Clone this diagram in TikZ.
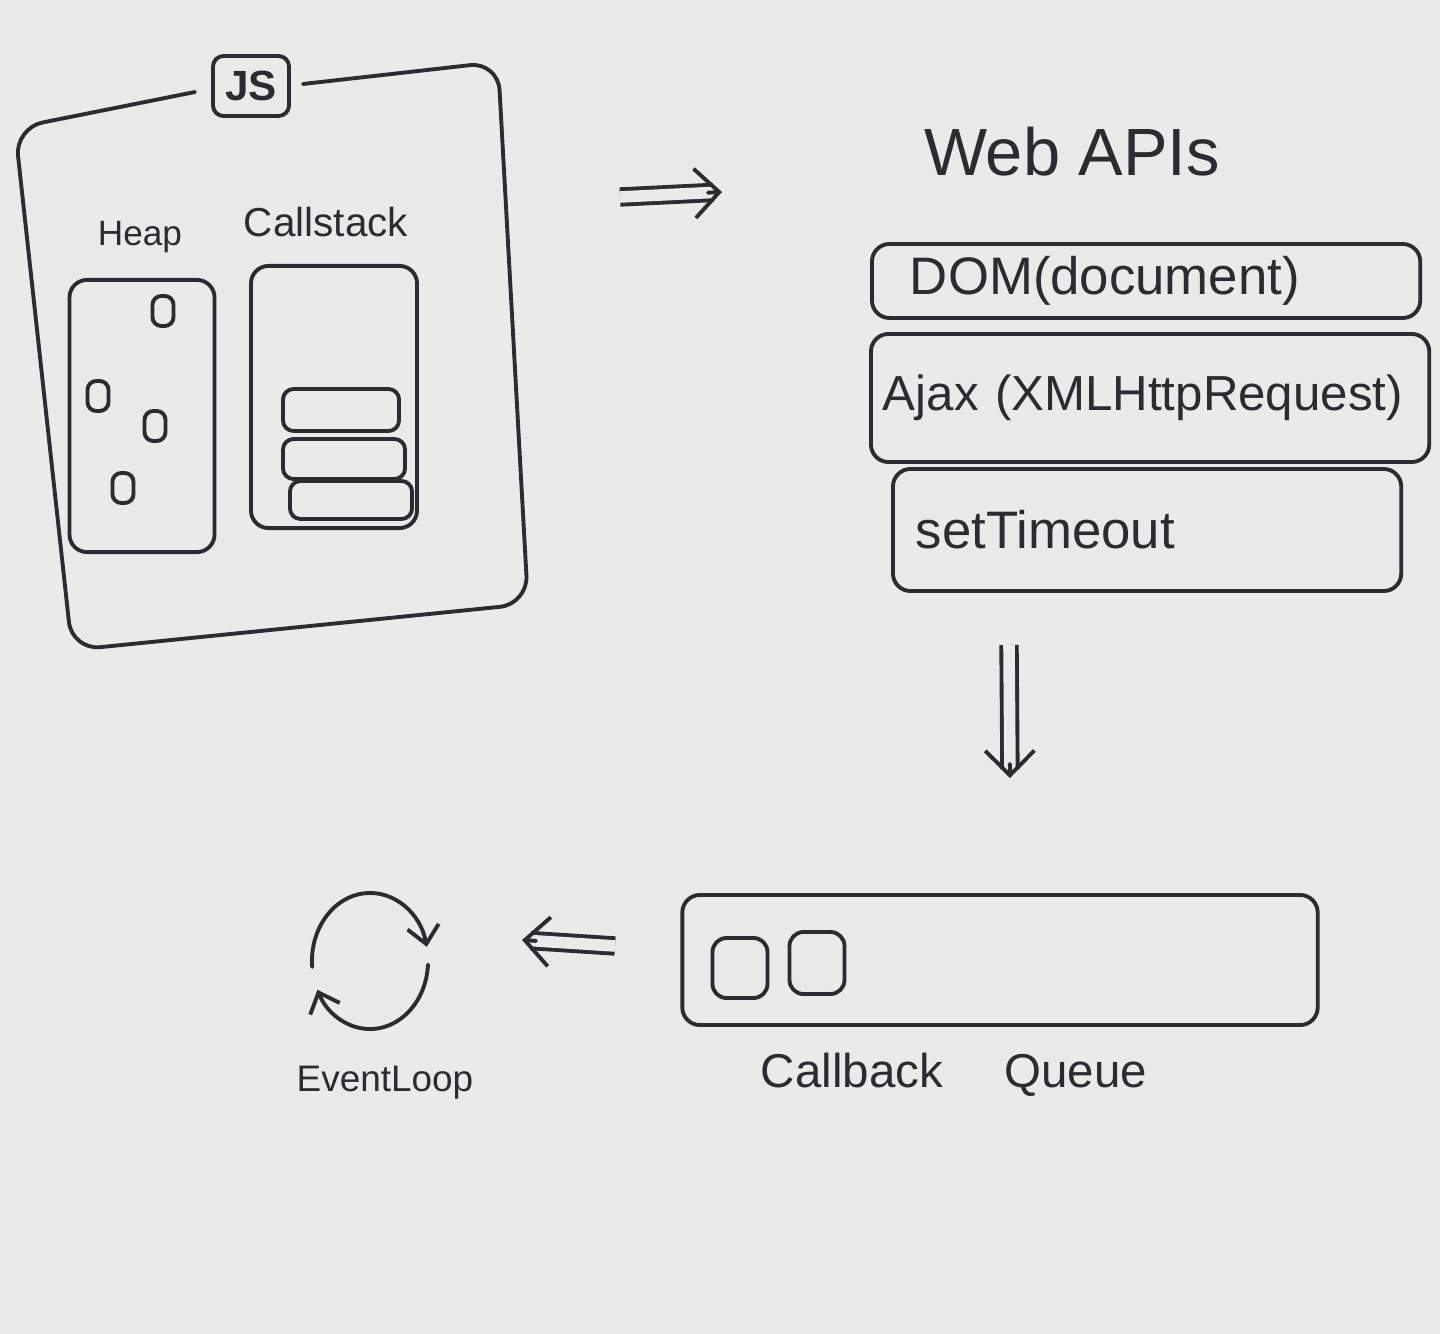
\documentclass[tikz,border=0pt]{standalone}
\usepackage{fontspec}
\setmainfont{Liberation Sans}
\usetikzlibrary{arrows.meta,calc}
\definecolor{paper}{HTML}{EAEAE8}
\definecolor{ink}{HTML}{2A2C33}
\begin{document}
\begin{tikzpicture}[x=0.01cm,y=-0.01cm,
  pen/.style={draw=ink, line width=1.1pt, line join=round, line cap=round},
  box/.style={pen, rectangle, rounded corners=5pt, inner sep=0pt},
  obj/.style={pen, rectangle, rounded corners=2.5pt, minimum width=0.21cm, minimum height=0.3cm, inner sep=0pt},
  lbl/.style={text=ink, inner sep=0pt},
  apibox/.style={box, anchor=west, align=left, text=ink, font=\fontsize{15}{16}\selectfont},
  dblshaft/.style={draw=ink, line width=1.1pt, double=paper, double distance=3.3pt, shorten >=2.5pt},
  chevron/.style={draw=ink, line width=1.1pt, line cap=round, line join=round, -{Straight Barb[length=7pt,width=14pt]}},
  looparrow/.style={pen, -{Straight Barb[length=5pt,width=9pt]}}]
\fill[paper] (0,0) rectangle (1440,1334);
\useasboundingbox (0,0) rectangle (1440,1334);

% JS engine frame
\draw[pen, rounded corners=8pt] (195,92) -- (15,128) -- (72,650) -- (528,604) -- (498,62) -- (303,84);
\node[box, rounded corners=3pt, minimum width=0.76cm, minimum height=0.6cm, text=ink, font=\fontsize{12}{12}\selectfont\bfseries] (js) at (251,86) {JS};

% Heap
\node[lbl, font=\fontsize{10}{12}\selectfont] (heaplbl) at (140,237) {Heap};
\node[box, minimum width=1.45cm, minimum height=2.72cm] (heap) at (142,416) {};
\node[obj] (o1) at (163,311) {};
\node[obj] (o2) at (98,396) {};
\node[obj] (o3) at (155,426) {};
\node[obj] (o4) at (123,488) {};

% Callstack
\node[lbl, font=\fontsize{11.5}{12}\selectfont] (cslbl) at (326,222) {Callstack};
\node[box, minimum width=1.66cm, minimum height=2.62cm] (cs) at (334,397) {};
\node[box, rounded corners=3pt, minimum width=1.16cm, minimum height=0.42cm] (f1) at (341,410) {};
\node[box, rounded corners=3pt, minimum width=1.22cm, minimum height=0.4cm] (f2) at (344,459) {};
\node[box, rounded corners=3pt, minimum width=1.22cm, minimum height=0.38cm] (f3) at (351,500) {};

% arrow to Web APIs
\coordinate (r1) at (620,197);
\coordinate (r2) at (722,192);
\draw[dblshaft] (r1) -- (r2);
\draw[chevron] ($(r2)!4pt!(r1)$) -- (r2);

% Web APIs
\node[lbl, font=\fontsize{19}{20}\selectfont] (webapi) at (1072,152) {Web APIs};
\node[apibox, minimum width=5.48cm, minimum height=0.74cm, inner xsep=0.38cm, text width=4.72cm] (dom) at (870,281) {DOM(document)};
\node[apibox, minimum width=5.58cm, minimum height=1.28cm, inner xsep=0.12cm, text width=5.34cm, font=\fontsize{14}{16}\selectfont] (ajax) at (869,398) {Ajax (XMLHttpRequest)};
\node[apibox, minimum width=5.08cm, minimum height=1.22cm, inner xsep=0.23cm, text width=4.62cm] (timeout) at (891,530) {setTimeout};

% arrow down
\coordinate (d1) at (1009,645);
\coordinate (d2) at (1010,778);
\draw[dblshaft] (d1) -- (d2);
\draw[chevron] ($(d2)!4pt!(d1)$) -- (d2);

% Callback queue
\node[box, minimum width=6.35cm, minimum height=1.3cm] (cbq) at (1000,960) {};
\node[box, rounded corners=4pt, minimum width=0.55cm, minimum height=0.6cm] (sq1) at (740,968) {};
\node[box, rounded corners=4pt, minimum width=0.55cm, minimum height=0.62cm] (sq2) at (817,963) {};
\node[lbl, font=\fontsize{13.5}{16}\selectfont] (cbqlbl) at (954,1075) {Callback\hspace{1.3em}Queue};

% arrow left
\coordinate (l1) at (615,946);
\coordinate (l2) at (522,940);
\draw[dblshaft] (l1) -- (l2);
\draw[chevron] ($(l2)!4pt!(l1)$) -- (l2);

% Event loop
\node[minimum width=1.16cm, minimum height=1.36cm, inner sep=0pt] (loop) at (370,961) {};
\draw[looparrow] ([shift={(185:0.58cm and 0.68cm)}]loop.center) arc[start angle=185, end angle=12, x radius=0.58cm, y radius=0.68cm];
\draw[looparrow] ([shift={(-3:0.58cm and 0.68cm)}]loop.center) arc[start angle=-3, end angle=-155, x radius=0.58cm, y radius=0.68cm];
\node[lbl, font=\fontsize{10.5}{12}\selectfont] (ellbl) at (385,1083) {EventLoop};
\end{tikzpicture}
\end{document}
